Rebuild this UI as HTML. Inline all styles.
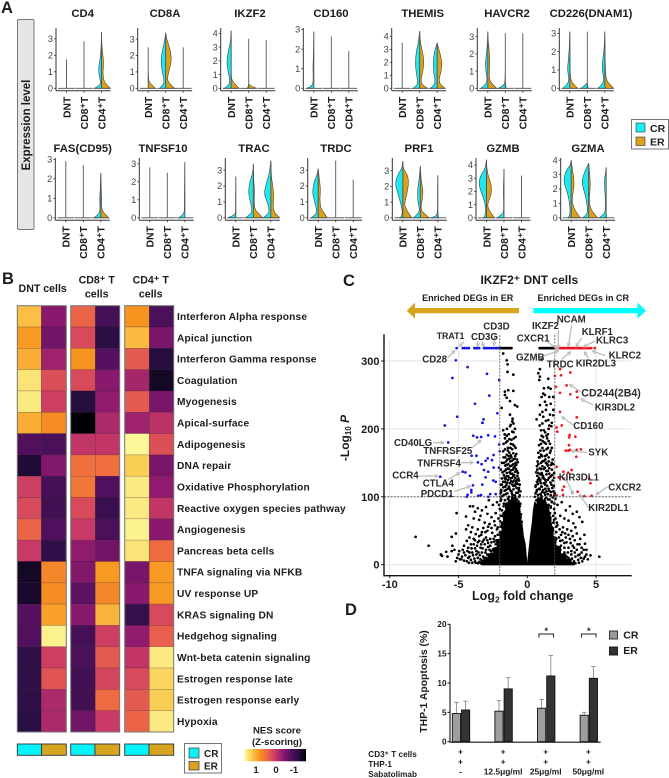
<!DOCTYPE html>
<html lang="en">
<head>
<meta charset="utf-8">
<title>IKZF2 DNT cells figure</title>
<style>
html,body{margin:0;padding:0;background:#fff;width:669px;height:778px;overflow:hidden}
svg{display:block;font-family:"Liberation Sans",Arial,sans-serif}
text{fill:#1c1c1c}
.b{font-weight:bold}
.note{font-weight:bold;font-size:9.7px;fill:#2a2a2a}
.arr{stroke:#bdbdbd;stroke-width:4;fill:none;marker-end:url(#ah)}
.hm{font-weight:bold;font-size:10.2px;letter-spacing:.15px}
</style>
</head>
<body>
<svg id="fig" width="669" height="778" viewBox="0 0 669 778" xmlns="http://www.w3.org/2000/svg">
<defs>
<marker id="ah" viewBox="0 0 10 10" refX="9" refY="5" markerWidth="3.4" markerHeight="3.4" orient="auto"><path d="M1 1L9 5L1 9" fill="none" stroke="#bdbdbd" stroke-width="2"/></marker>
<linearGradient id="nesGrad" x1="0" x2="1" y1="0" y2="0">
<stop offset="0" stop-color="#fcffa4"/><stop offset=".125" stop-color="#f9c74a"/><stop offset=".25" stop-color="#f7931f"/><stop offset=".375" stop-color="#ec6448"/><stop offset=".5" stop-color="#c93a66"/><stop offset=".625" stop-color="#8f1a6e"/><stop offset=".75" stop-color="#551060"/><stop offset=".875" stop-color="#2a0f45"/><stop offset="1" stop-color="#000004"/>
</linearGradient>
</defs>

<!-- Panel letters -->
<text class="b" x="1" y="13" font-size="16.5">A</text>
<text class="b" x="2" y="284" font-size="16.5">B</text>
<text class="b" x="343" y="286" font-size="16.5">C</text>
<text class="b" x="345" y="615" font-size="16.5">D</text>

<!-- Panel A strip -->
<rect x="17.5" y="19.5" width="16.5" height="210" rx="1.5" fill="#e6e6e6" stroke="#777" stroke-width="1"/>
<text class="b" font-size="11.5" text-anchor="middle" transform="translate(30,125) rotate(-90)">Expression level</text>
<g id="violins"></g>

<!-- Panel A legend -->
<g>
<rect x="631.5" y="119.5" width="37" height="29.5" fill="#fff" stroke="#777" stroke-width="1"/>
<rect x="636" y="123" width="9" height="9" fill="#0ff0f8" stroke="#333" stroke-width=".6"/>
<rect x="636" y="137" width="9" height="8.5" fill="#d9a31c" stroke="#333" stroke-width=".6"/>
<text class="b" x="650" y="132" font-size="10.5">CR</text>
<text class="b" x="650" y="145.5" font-size="10.5">ER</text>
</g>

<!-- Panel B headers -->
<g class="b" font-size="10.6" text-anchor="middle">
<text x="42.7" y="292">DNT cells</text>
<text x="96.7" y="283.5">CD8⁺ T</text>
<text x="96.7" y="297.5">cells</text>
<text x="150.7" y="283.5">CD4⁺ T</text>
<text x="150.7" y="297.5">cells</text>
</g>
<g id="heatmap"></g>

<!-- Panel B legends -->
<g>
<rect x="184.5" y="743.5" width="37" height="29.5" fill="#fff" stroke="#777" stroke-width="1"/>
<rect x="189" y="748" width="10" height="10" fill="#0ff0f8" stroke="#333" stroke-width=".7"/>
<rect x="189" y="761.5" width="10" height="8.5" fill="#d9a31c" stroke="#333" stroke-width=".7"/>
<text class="b" x="204" y="757" font-size="10">CR</text>
<text class="b" x="204" y="769.5" font-size="10">ER</text>
</g>
<g>
<text class="b" x="277" y="733.5" font-size="9.6" text-anchor="middle">NES score</text>
<text class="b" x="277" y="745" font-size="9.6" text-anchor="middle">(Z-scoring)</text>
<rect x="244.3" y="749" width="61.7" height="12.3" fill="url(#nesGrad)"/>
<text class="b" x="256" y="773" font-size="9.6" text-anchor="middle">1</text>
<text class="b" x="276" y="773" font-size="9.6" text-anchor="middle">0</text>
<text class="b" x="294" y="773" font-size="9.6" text-anchor="middle">-1</text>
</g>

<!-- Panel C headings -->
<text class="b" x="529.3" y="284" font-size="12" text-anchor="middle">IKZF2⁺ DNT cells</text>
<text class="b" x="467.7" y="301" font-size="9" text-anchor="middle" fill="#333">Enriched DEGs in ER</text>
<text class="b" x="583.3" y="301" font-size="9" text-anchor="middle" fill="#333">Enriched DEGs in CR</text>
<polygon points="519,308 415,308 415,302.5 406.7,310.7 415,318.8 415,313.3 519,313.3" fill="#d8a420"/>
<polygon points="533.3,308 637.5,308 637.5,302.5 646,310.7 637.5,318.8 637.5,313.3 533.3,313.3" fill="#00fdfd"/>
<g id="volcano"></g>

<!-- Volcano annotations, zoomed reference coordinates -->
<g transform="translate(340,265) scale(.33333)">
<line class="arr" x1="372" y1="230" x2="358" y2="245"/>
<line class="arr" x1="412" y1="228" x2="415" y2="245"/>
<line class="arr" x1="425" y1="228" x2="432" y2="245"/>
<line class="arr" x1="465" y1="205" x2="462" y2="242"/>
<line class="arr" x1="322" y1="280" x2="345" y2="256"/>
<line class="arr" x1="620" y1="228" x2="655" y2="255"/>
<line class="arr" x1="655" y1="195" x2="655" y2="250"/>
<line class="arr" x1="695" y1="180" x2="685" y2="245"/>
<line class="arr" x1="725" y1="218" x2="708" y2="246"/>
<line class="arr" x1="765" y1="228" x2="730" y2="246"/>
<line class="arr" x1="605" y1="275" x2="655" y2="258"/>
<line class="arr" x1="665" y1="283" x2="693" y2="260"/>
<line class="arr" x1="745" y1="280" x2="733" y2="260"/>
<line class="arr" x1="795" y1="272" x2="757" y2="258"/>
<line class="arr" x1="722" y1="380" x2="688" y2="358"/>
<line class="arr" x1="760" y1="420" x2="722" y2="402"/>
<line class="arr" x1="700" y1="480" x2="665" y2="455"/>
</g>
<g transform="translate(340,420) scale(.33333)">
<line class="arr" x1="280" y1="68" x2="312" y2="68"/>
<line class="arr" x1="395" y1="85" x2="423" y2="60"/>
<line class="arr" x1="362" y1="128" x2="400" y2="128"/>
<line class="arr" x1="237" y1="168" x2="295" y2="168"/>
<line class="arr" x1="325" y1="178" x2="360" y2="158"/>
<line class="arr" x1="342" y1="215" x2="392" y2="198"/>
<line class="arr" x1="740" y1="97" x2="693" y2="93"/>
<line class="arr" x1="675" y1="172" x2="700" y2="222"/>
<line class="arr" x1="745" y1="262" x2="718" y2="222"/>
<line class="arr" x1="803" y1="200" x2="768" y2="224"/>
</g>
<g>
<text class="note" x="436.7" y="339" style="font-size:8.8px">TRAT1</text>
<text class="note" x="471" y="340">CD3G</text>
<text class="note" x="483.3" y="329.7">CD3D</text>
<text class="note" x="422.3" y="362.3">CD28</text>
<text class="note" x="516.7" y="341.7">CXCR1</text>
<text class="note" x="532" y="329">IKZF2</text>
<text class="note" x="556.7" y="322.3">NCAM</text>
<text class="note" x="581.7" y="335">KLRF1</text>
<text class="note" x="596" y="343.3">KLRC3</text>
<text class="note" x="516" y="360.3">GZMB</text>
<text class="note" x="608.7" y="358.3">KLRC2</text>
<text class="note" x="546.7" y="367.3">TRDC</text>
<text class="note" x="575.7" y="366.3">KIR2DL3</text>
<text class="note" x="581.3" y="396.3" style="font-size:10.6px">CD244(2B4)</text>
<text class="note" x="594.7" y="410.3">KIR3DL2</text>
<text class="note" x="573.3" y="429">CD160</text>
<text class="note" x="394" y="446">CD40LG</text>
<text class="note" x="423.3" y="454">TNFRSF25</text>
<text class="note" x="588.3" y="455.3">SYK</text>
<text class="note" x="417.3" y="466.7">TNFRSF4</text>
<text class="note" x="392.3" y="478.7">CCR4</text>
<text class="note" x="558.7" y="480.7">KIR3DL1</text>
<text class="note" x="422.7" y="486.7">CTLA4</text>
<text class="note" x="608.3" y="490.7">CXCR2</text>
<text class="note" x="420.7" y="497">PDCD1</text>
<text class="note" x="588.3" y="511">KIR2DL1</text>
</g>
<text class="b" font-size="12" text-anchor="middle" transform="translate(349,438) rotate(-90)">-Log<tspan font-size="8" dy="2">10</tspan><tspan dy="-2"> </tspan><tspan font-style="italic">P</tspan></text>
<text class="b" x="522.7" y="600" font-size="12.5" text-anchor="middle">Log<tspan font-size="8.5" dy="2.5">2</tspan><tspan dy="-2.5"> fold change</tspan></text>

<!-- Panel D -->
<g id="bars"></g>
<text class="b" font-size="10.4" text-anchor="middle" transform="translate(427,681.5) rotate(-90)">THP-1 Apoptosis (%)</text>
<g>
<rect x="609.5" y="631" width="8" height="8" fill="#9b9b9b" stroke="#222" stroke-width=".9"/>
<rect x="609.5" y="647" width="8" height="8" fill="#333" stroke="#111" stroke-width=".9"/>
<text class="b" x="623.3" y="638.5" font-size="10.5">CR</text>
<text class="b" x="623.3" y="654" font-size="10.5">ER</text>
</g>
<g class="b" font-size="8.2">
<text x="368.3" y="757">CD3⁺ T cells</text>
<text x="368.3" y="767">THP-1</text>
<text x="368.3" y="777">Sabatolimab</text>
</g>

<script>
const SVGNS = 'http://www.w3.org/2000/svg';
function mk(tag, attrs, parent) {
  const e = document.createElementNS(SVGNS, tag);
  for (const k in attrs) e.setAttribute(k, attrs[k]);
  if (parent) parent.appendChild(e);
  return e;
}

/* ---------- Panel A: violin data ---------- */
const geneNames = ['CD4','CD8A','IKZF2','CD160','THEMIS','HAVCR2','CD226(DNAM1)','FAS(CD95)','TNFSF10','TRAC','TRDC','PRF1','GZMB','GZMA'];
const violinGroups = ['DNT','CD8⁺T','CD4⁺T'];
const geneTicks = [[0,1,2,3],[0,1,2,3],[0,1,2,3,4],[0,1,2,3],[0,1,2,3,4],[0,1,2,3],[0,1,2,3],[0,1,2,3],[0,1,2,3],[0,1,2,3],[0,1,2,3],[0,1,2,3],[0,1,2,3,4],[0,1,2,3,4]];
const violinTops = [[1.75,2.85,3.4],[2.5,3.4,2.5],[4.2,3.6,3.5],[2.9,2.65,1.9],[3.5,4.4,3.5],[3.3,3.2,3.2],[3.1,3.1,3.1],[2.9,2.7,2.3],[2.8,2.5,3.1],[2.6,3.4,3.6],[3.1,3.6,2.4],[3.6,3.3,2.7],[4.4,3.7,3.2],[4,3.8,3.5]];
const crCD4 = [[],[],[[0,7],[.15,2],[.4,.8],[.8,2.5],[1.2,3],[1.7,1.6],[2.2,.6],[3.4,0]]];
const erCD4 = [[],[],[[0,9],[.2,5],[.5,2],[1,1.3],[1.5,2.2],[2,1.5],[2.5,.5],[3.4,0]]];
const crCD8A = [[],[[0,6],[.2,2.5],[.5,1.5],[1,3.5],[1.7,5],[2.4,3],[3,.8],[3.4,0]],[]];
const erCD8A = [[[0,7],[.2,4],[.4,.5],[1,.1]],[[0,9],[.2,5],[.5,1.5],[1,3],[1.7,6],[2.4,4.5],[3,1],[3.4,0]],[]];
const crIKZF2 = [[[0,7],[.2,2.5],[.6,1],[1.3,3.5],[2,4.5],[2.7,3],[3.3,.8],[4.2,0]],[[0,1.5],[.2,.2]],[]];
const erIKZF2 = [[[0,8],[.2,5],[.6,.5],[1,.1]],[[0,8],[.15,3],[.3,.3]],[]];
const crCD160 = [[[0,7],[.1,1.5],[.4,.5],[1,1],[1.7,.3],[2.9,0]],[],[]];
const erCD160 = [[],[],[]];
const crTHEMIS = [[],[[0,7],[.2,2.5],[.6,2],[1.2,3.5],[2,4.5],[3,3],[3.5,1.3],[4.4,0]],[[0,7],[.2,3],[.6,2],[1.2,3.5],[2,4],[2.8,3],[3.5,0]]];
const erTHEMIS = [[],[[0,8],[.2,3],[.6,1],[1.2,3],[2,4.5],[2.8,3],[3.5,.7],[4.4,0]],[[0,8],[.2,4],[.6,1.5],[1.3,4],[2,5],[2.8,2.5],[3.5,0]]];
const crHAVCR2 = [[[0,7],[.2,2.5],[.5,.5],[1,2],[1.5,2.5],[2.2,1],[2.7,.3],[3.3,0]],[[0,7],[.15,2.5],[.3,.3],[1,.1]],[]];
const erHAVCR2 = [[[0,9],[.2,5],[.5,1.5],[1,1.5],[1.5,2],[2.2,1.5],[2.7,.4],[3.3,0]],[[0,.8],[.3,.2]],[]];
const crCD226 = [[[0,7],[.2,2.5],[.5,.7],[1,2.5],[1.5,1.5],[2.2,.5],[3.1,0]],[[0,6.5],[.15,2.5],[.3,.3]],[[0,7],[.2,2.5],[.5,.8],[1,2.8],[1.5,2.2],[2.2,.6],[3.1,0]]];
const erCD226 = [[[0,8],[.2,4],[.5,.5],[1.5,.3],[3.1,0]],[[0,1],[.2,.2]],[[0,9],[.2,5],[.5,1],[1.5,.4],[2.2,.3],[3.1,0]]];
const crFAS = [[],[],[[0,7],[.15,2.5],[.4,.6],[.9,1.2],[1.5,.5],[2.3,0]]];
const erFAS = [[],[],[[0,8],[.2,3.5],[.5,.6],[.9,1],[1.5,.5],[2.3,0]]];
const crTNFSF10 = [[],[],[[0,6],[.15,2.5],[.3,.4],[1,.5],[2,.2],[3.1,0]]];
const erTNFSF10 = [[],[],[]];
const crTRAC = [[[0,8],[.15,2],[.3,.2],[1,.3],[2.6,0]],[[0,8],[.2,3],[.5,1],[1,3],[1.6,5],[2.3,3.5],[2.8,.5],[3.4,0]],[[0,8],[.2,3],[.5,1.5],[1,3.5],[1.5,7],[2.3,4],[2.8,1.5],[3.6,0]]];
const erTRAC = [[],[[0,9],[.25,6],[.5,1.5],[1,.8],[1.6,1.3],[2.3,.5],[3.4,0]],[[0,9],[.2,5],[.6,2],[1.2,3],[1.8,2.5],[2.6,.5],[3.6,0]]];
const crTRDC = [[[0,7],[.2,2],[.5,1.5],[1,3.5],[1.6,6],[2.4,3.5],[2.7,1],[3.1,0]],[],[]];
const erTRDC = [[[0,9],[.3,6],[.6,2.5],[1.2,1.5],[1.8,2.5],[2.5,1],[3.1,0]],[],[]];
const crPRF1 = [[[0,3],[.1,.8],[.5,.5],[1,2.5],[1.6,5],[2.2,8],[2.9,4],[3.1,1],[3.6,0]],[[0,7],[.2,3],[.5,.5],[1,2.5],[1.7,3],[2.3,1.5],[3.3,0]],[[0,7],[.1,2],[.3,.3],[1,.3],[2.7,0]]];
const erPRF1 = [[[0,9],[.2,7],[.5,3.5],[.9,1.5],[1.5,4],[2.2,6],[2.8,4.5],[3.1,.5],[3.6,0]],[[0,9],[.2,5],[.5,.5],[1,1.5],[1.7,3],[2.3,1],[3.3,0]],[[0,.8],[.3,.2]]];
const crGZMB = [[[0,3],[.2,1],[.8,.8],[1.5,3],[2.5,8],[3.2,6],[3.7,1.5],[4.4,0]],[[0,7],[.2,3],[.4,.4],[1,.4],[2,.7],[3.7,0]],[]];
const erGZMB = [[[0,8],[.2,6],[.6,2.5],[1,.7],[1.8,5],[2.5,5],[3.2,1.5],[3.8,.3],[4.4,0]],[],[]];
const crGZMA = [[[0,3],[.2,1],[1,1.5],[1.8,4],[2.6,8],[3.3,5],[3.6,1],[4,0]],[[0,6],[.2,2],[.6,1],[1.5,3],[2.5,7.5],[3.2,4],[3.8,0]],[[0,7],[.2,3],[.5,.7],[1.5,1],[2.5,2],[3,1],[3.5,0]]];
const erGZMA = [[[0,9],[.3,6],[.7,2.5],[1.2,.6],[2,2.5],[2.6,3],[3.2,1.5],[4,0]],[[0,9],[.3,5],[.7,1.5],[1.3,.5],[2,1.5],[2.6,1.5],[3.8,0]],[[0,.5],[.3,.1]]];
const crProfiles = [crCD4,crCD8A,crIKZF2,crCD160,crTHEMIS,crHAVCR2,crCD226,crFAS,crTNFSF10,crTRAC,crTRDC,crPRF1,crGZMB,crGZMA];
const erProfiles = [erCD4,erCD8A,erIKZF2,erCD160,erTHEMIS,erHAVCR2,erCD226,erFAS,erTNFSF10,erTRAC,erTRDC,erPRF1,erGZMB,erGZMA];

/* panel frame layout */
const panelAxisX = [56,137.7,220.7,303.3,391.7,477.3,559.3,55.3,139.3,225.3,307.7,392.3,476,560.7];
const panelUnit = [16.5,16.4,13.75,19.6,13,17.2,18.3,19.5,18,15.9,15.9,15.7,13.2,14.4];
const panelTitleX = [82.7,165,250,331,422.7,507,591,82.7,163,254,336,419,503,588];

function violinPath(cx, side, profile, yOf) {
  const pts = profile.map(p => [cx + side * p[1], yOf(p[0])]);
  let d = 'M' + cx + ' ' + yOf(0) + 'L' + pts[0][0].toFixed(1) + ' ' + pts[0][1].toFixed(1);
  for (let i = 1; i < pts.length - 1; i++) {
    const mx = (pts[i][0] + pts[i + 1][0]) / 2, my = (pts[i][1] + pts[i + 1][1]) / 2;
    d += 'Q' + pts[i][0].toFixed(1) + ' ' + pts[i][1].toFixed(1) + ' ' + mx.toFixed(1) + ' ' + my.toFixed(1);
  }
  const last = pts[pts.length - 1];
  d += 'L' + last[0].toFixed(1) + ' ' + last[1].toFixed(1) + 'L' + cx + ' ' + last[1].toFixed(1) + 'Z';
  return d;
}

const vRoot = document.getElementById('violins');
geneNames.forEach((gene, g) => {
  const row = g < 7 ? 0 : 1;
  const y0 = row === 0 ? 88.3 : 217.8;
  const axisBottom = y0 + 2.4;
  const axisTop = row === 0 ? 28 : 158;
  const ax = panelAxisX[g];
  const unit = panelUnit[g];
  const yOf = v => y0 - v * unit;
  const group = mk('g', {}, vRoot);
  
  
  const title = mk('text', {x: panelTitleX[g], y: row === 0 ? 17 : 152, 'font-size': 11.3, 'font-weight': 'bold', 'text-anchor': 'middle'}, group);
  
  
  title.textContent = gene;
  const yAxis = mk('line', {x1: ax, x2: ax, y1: axisTop, y2: axisBottom, stroke: '#333', 'stroke-width': 1}, group);
  
  
  const xAxis = mk('line', {x1: ax, x2: ax + 54.5, y1: axisBottom, y2: axisBottom, stroke: '#333', 'stroke-width': 1}, group);
  
  
  geneTicks[g].forEach(t => {
    mk('line', {x1: ax - 2, x2: ax, y1: yOf(t), y2: yOf(t), stroke: '#333', 'stroke-width': .8}, group);
    const lab = mk('text', {x: ax - 3, y: yOf(t) + 3.2, 'font-size': 9.2, 'text-anchor': 'end', style: 'fill:#444'}, group);
    
    
    lab.textContent = t;
  });
  violinGroups.forEach((name, i) => {
    const cx = ax + 10.5 + i * 17.5;
    if (crProfiles[g][i].length) {
      const p = mk('path', {d: violinPath(cx, -1, crProfiles[g][i], yOf), fill: '#1be8f0', stroke: '#3a3a3a', 'stroke-width': .55}, group);
      
      
    }
    if (erProfiles[g][i].length) {
      const p = mk('path', {d: violinPath(cx, 1, erProfiles[g][i], yOf), fill: '#dca016', stroke: '#3a3a3a', 'stroke-width': .55}, group);
      
      
    }
    mk('line', {x1: cx - 8.4, x2: cx + 8.4, y1: y0, y2: y0, stroke: '#4a4a4a', 'stroke-width': .8}, group);
    mk('line', {x1: cx, x2: cx, y1: y0, y2: yOf(violinTops[g][i]), stroke: '#555', 'stroke-width': .9}, group);
    mk('line', {x1: cx, x2: cx, y1: axisBottom, y2: axisBottom + 2, stroke: '#333', 'stroke-width': .8}, group);
    const lab = mk('text', {transform: 'translate(' + (cx + 3.8) + ',' + (axisBottom + 6) + ') rotate(-90)', 'font-size': 10.4, 'font-weight': 'bold', 'text-anchor': 'end'}, group);
    
    
    lab.textContent = name;
  });
});

/* ---------- Panel B: heatmap data ---------- */
const pathways = ['Interferon Alpha response','Apical junction','Interferon Gamma response','Coagulation','Myogenesis','Apical-surface','Adipogenesis','DNA repair','Oxidative Phosphorylation','Reactive oxygen species pathway','Angiogenesis','Pancreas beta cells','TNFA signaling via NFKB','UV response UP','KRAS signaling DN','Hedgehog signaling','Wnt-beta catenin signaling','Estrogen response late','Estrogen response early','Hypoxia'];
const nesDntCR = [1.15,.85,1,1.4,1.45,1,-.85,-1.3,.05,.15,.4,0,-1.4,-1.35,-.8,-.85,-1.15,-1.15,-1.15,-1.2];
const nesDntER = [-.45,-.6,-.3,.2,.05,.75,-.9,-.5,-.95,-1,-.85,-1.15,.7,.75,.9,1.5,.05,.25,-.2,-.2];
const nesCd8CR = [.4,.15,.8,.15,-1.25,-1.6,-.05,.5,.55,.15,0,-.4,-.5,-.75,-.45,-.95,-.9,-1,-1,-.6];
const nesCd8ER = [-.95,-1.2,-.8,-.45,-.4,-.2,-.05,.5,-.85,-1.05,-.9,-.6,.85,.7,1.05,.05,.3,.1,.45,0];
const nesCd4CR = [.8,1.1,.3,-.25,.3,-.3,1.55,1.25,1.45,1.45,1.5,1.4,-.55,-.45,-1.1,-.4,-.05,.15,.3,.4];
const nesCd4ER = [-.9,-.55,-1.25,-1.4,-.55,-.1,.2,-.55,-.4,-.05,-.45,.45,.85,.85,.15,.35,1.45,1.3,1.25,1.45];
const nesColumns = [nesDntCR,nesDntER,nesCd8CR,nesCd8ER,nesCd4CR,nesCd4ER];
const nesStops = ['#fcffa4','#f9c74a','#f7931f','#ec6448','#c93a66','#8f1a6e','#551060','#2a0f45','#000004'];

function nesColor(z) {
  const t = Math.min(.9999, Math.max(0, (1.6 - z) / 3.2)) * (nesStops.length - 1);
  const i = Math.floor(t), f = t - i;
  const h = s => [1, 3, 5].map(k => parseInt(s.substr(k, 2), 16));
  const a = h(nesStops[i]), b = h(nesStops[i + 1]);
  return 'rgb(' + a.map((v, k) => Math.round(v + (b[k] - v) * f)).join(',') + ')';
}
const hmRoot = document.getElementById('heatmap');
const hmEdges = [17.3,41.3,66.3,70.7,95.3,119.7,124.7,149.3,173.7];
const hmColLeft = [0,1,3,4,6,7];
const hmTop = 305.7, hmRow = (732 - 305.7) / 20;
nesColumns.forEach((col, c) => {
  const x0 = hmEdges[hmColLeft[c]], x1 = hmEdges[hmColLeft[c] + 1];
  col.forEach((z, r) => {
    const cell = mk('rect', {x: x0, y: hmTop + r * hmRow, width: x1 - x0, height: hmRow, fill: nesColor(z), stroke: 'rgba(30,10,30,.35)', 'stroke-width': .5}, hmRoot);
    
    
  });
});
[[17.3,66.3],[70.7,119.7],[124.7,173.7]].forEach(e => {
  const frame = mk('rect', {x: e[0], y: hmTop, width: e[1] - e[0], height: 732 - hmTop, fill: 'none', stroke: '#777', 'stroke-width': 1}, hmRoot);
  
  
  const mid = e[0] + (e[1] - e[0]) * .495;
  const barCR = mk('rect', {x: e[0], y: 744, width: mid - e[0], height: 11.3, fill: '#05f3fb', stroke: '#333', 'stroke-width': .9}, hmRoot);
  
  
  const barER = mk('rect', {x: mid, y: 744, width: e[1] - mid, height: 11.3, fill: '#d6a41e', stroke: '#333', 'stroke-width': .9}, hmRoot);
  
  
});
pathways.forEach((name, r) => {
  const t = mk('text', {x: 177, y: hmTop + (r + .5) * hmRow + 3.6, class: 'hm'}, hmRoot);
  
  
  t.textContent = name;
});

/* ---------- Panel C: volcano data (log2FC, -log10P) ---------- */
const volcanoXTicks = [-10,-5,0,5];
const volcanoYTicks = [0,100,200,300];
const blueTop = [-5.14,-4.7,-4.55,-4.4,-4.25,-3.85,-3.75,-3.65,-3.5,-3.15,-3.05,-2.9,-2.75,-2.6,-2.45,-2.3,-2.2,-2.05];
const redTop = [2.05,2.2,2.3,2.4,2.5,2.6,2.7,2.8,2.9,3,3.1,3.2,3.3,3.4,3.5,3.6,3.7,3.8,3.9,4,4.1,4.2,4.3,4.4,4.5,4.65,4.9];
const blackTopLeft = [-1.95,-1.85,-1.75,-1.65,-1.55,-1.45,-1.35,-1.25,-1.15];
const blackTopRight = [.9,1,1.1,1.2,1.3,1.4,1.5,1.6,1.7,1.8,1.9,1.98];
const bluePoints = [[-5.19,301],[-4.34,291],[-2.93,281],[-5.45,275],[-2.04,272],[-2.76,249],[-3.8,237],[-2.18,223],[-5.1,218],[-3.18,214],[-3.27,209],[-6,205],[-3.25,209],[-5.75,180],[-3.93,190],[-3.66,187.5],[-3.35,188],[-2.84,190.5],[-2.35,189],[-2.04,177],[-2.01,167],[-4.05,160.5],[-3.7,160.5],[-2.45,161.5],[-2.88,156.6],[-3.03,153],[-2.57,154],[-3.59,150.7],[-3.32,148],[-6.33,129.6],[-4.7,137],[-4.5,136],[-4.17,131],[-3.15,139.4],[-2.84,137],[-2.45,143],[-2.06,143],[-3.03,128.6],[-3.27,118],[-2.47,124],[-2.3,122],[-3.95,117],[-4.07,110],[-4.07,106.5],[-4.34,103],[-3.56,101.6],[-3.37,102.6],[-2.84,100],[-2.7,104],[-2.3,104],[-4.4,100],[-5.58,101]];
const redPoints = [[2.38,288],[2.01,278],[2.45,279],[3.13,283],[2.86,264],[2.08,262],[2.38,253],[3.13,251],[3.59,255],[3.64,246.5],[2.38,225],[3.59,217],[2.13,202],[2.5,205],[2.18,196],[3.08,191],[3.05,187.5],[3.49,188.5],[3.03,176],[2.79,168],[2.98,168],[3.1,169],[3.59,169],[3.9,170],[3.56,159],[2.13,144],[2.62,137],[2.98,135.5],[3.22,139.4],[2.28,128.6],[2.62,127],[4.5,127],[4.6,120],[2.67,115],[2.55,110],[3.27,106],[3.66,107.5],[2.13,102],[2.6,102.6],[3.83,101.6],[4.15,101],[4.68,101.6]];
const blackLeft = [[-1.75,311],[-1.5,301],[-1.43,295],[-1.43,284],[-1.02,280],[-1.63,255],[-1.38,257],[-1.02,256],[-1.63,250],[-1.5,246],[-1.26,241],[-.9,235],[-.73,233],[-1.87,231],[-1.26,221],[-1.07,215],[-1.09,211],[-1.2,206],[-1.75,198],
[-1.65,192],[-1.5,190],[-1.3,185],[-1,195],[-.85,188],[-1.55,180],[-1.2,178],[-.95,175],[-1.4,172],[-1.1,170],[-1.75,167],[-1.3,165],[-.8,163],[-1.6,158],[-1.45,155],[-1,155],[-1.25,152],[-.7,151],[-1.7,150],[-1.5,147],[-1.15,146],[-.9,145],[-1.35,141],[-1.05,140],[-.75,138],[-1.8,136],[-1.2,134],[-.95,132],[-1.5,130],[-1.1,128],[-.65,127],[-1.4,125],[-1.75,122],[-1.25,120],[-.85,119],[-1,116],[-1.6,115],[-1.3,112],[-.6,113],[-1.9,110],[-1.15,108],[-.8,106],[-1.45,105],[-1.7,103],[-1.05,102],[-.55,102],[-1.95,100],
[-1.35,160],[-1.15,158],[-1.55,140],[-.85,150],[-1.65,128],[-.55,118],[-1.85,118],[-1.05,122],[-1.3,128],[-.75,125],[-1.55,110],[-1.95,105],
[-1.9,96],[-2.2,92],[-2.5,88],[-2.8,95],[-3,85],[-3.3,80],[-3.6,83],[-3.95,86],[-4.17,86],[-3.8,78],[-3.4,72],[-2.9,75],[-2.6,70],[-2.3,76],[-2,82],[-1.7,90],[-4.46,71],[-3.9,68],[-3.5,66],[-3.1,62],[-2.75,60],[-2.4,64],[-2.1,68],[-1.8,72],[-4.3,58],[-4,55],[-3.6,52],[-3.2,54],[-2.9,50],[-2.55,47],[-2.2,52],[-1.95,56],[-4.45,52],[-4.1,48],[-3.75,45],[-3.35,44],[-3,40],[-2.7,38],[-2.35,42],[-2.05,35],
[-5.14,76],[-5.19,46],[-5.5,41],[-5.45,28],[-5.3,22],[-5.5,20],[-5.9,19],[-5.8,12],[-6.28,15],[-6.2,13],[-7.18,28],[-8.12,41],[-5,15],[-5.1,10],[-4.9,8],[-4.7,22],[-4.6,28],[-4.4,35],[-4.3,25],[-4.2,18],[-4.5,14],[-4.3,10],[-4.1,7],[-3.9,30],[-3.8,24],[-3.7,15],[-3.6,10],[-3.5,35],[-3.4,25],[-3.3,18],[-3.2,12],[-3.1,30],[-3,22],[-2.9,15],[-3.8,5],[-3.5,4],[-3.3,6],[-2.7,28],[-2.5,22],[-2.3,30],[-2.1,25],[-1.9,45],[-3.95,14],[-3.65,28],[-3.25,34],[-2.85,32],[-2.6,16],[-2.4,34],[-4.05,24],[-3.45,14],[-2.95,8],[-2.75,22]];
const blackLeftDense = [[-1.98,64],[-1.76,61],[-1.52,66],[-1.31,63],[-1.08,68],[-.88,62],[-.66,65],[-.49,70],[-.41,63],
[-1.92,72],[-1.66,70],[-1.42,74],[-1.2,71],[-1,76],[-.78,73],[-.58,78],[-.46,74],
[-1.84,80],[-1.6,78],[-1.37,83],[-1.15,79],[-.93,84],[-.72,81],[-.54,86],
[-2.05,88],[-1.72,86],[-1.5,90],[-1.27,87],[-1.06,92],[-.84,88],[-.64,93],[-.5,90],
[-1.95,94],[-1.62,95],[-1.4,97],[-1.18,94],[-.97,99],[-.75,96],[-.58,100],
[-1.8,101],[-1.55,104],[-1.33,100],[-1.12,105],[-.9,102],[-.68,106],[-.5,108],
[-1.9,107],[-1.65,109],[-1.42,112],[-1.22,109],[-1,111],[-.78,113],[-.62,110],
[-1.75,114],[-1.52,118],[-1.33,115],[-1.08,118],[-.88,116],[-.7,119],
[-1.95,118],[-1.62,122],[-1.45,121],[-1.18,123],[-.95,124],[-.8,122],[-.6,124],
[-1.85,127],[-1.58,126],[-1.38,130],[-1.22,127],[-1.02,131],[-.87,128],[-.72,131],
[-1.7,132],[-1.48,135],[-1.28,136],[-1.08,134],[-.88,137],[-.68,135],
[-1.92,140],[-1.65,138],[-1.42,142],[-1.18,139],[-.98,143],[-.82,141],
[-1.6,146],[-1.38,148],[-1.25,145],[-1.02,148],[-.8,147],
[-1.85,150],[-1.55,152],[-1.3,156],[-1.12,153],[-.92,156],[-.74,155],
[-1.72,158],[-1.5,162],[-1.2,161],[-1.02,164],[-.88,160],
[-1.62,170],[-1.42,168],[-1.22,172],[-1.05,177],[-.85,172],
[-1.72,178],[-1.45,182],[-1.15,184],[-.98,186],[-1.62,186],[-1.35,192],[-1.1,196],[-.9,200],[-1.48,200],[-1.25,204],[-1,208],
[-2.15,55],[-2.35,58],[-2.6,54],[-2.85,56],[-3.05,48],[-3.3,48],[-3.5,42],[-3.9,38],[-4.2,40],[-2.15,44],[-2.45,38],[-2.25,36],[-2.6,33],[-2.9,36],[-3.15,37],[-3.35,30],[-3.6,33],[-3.8,36],[-4.1,30],[-4.35,20],[-4.6,18],[-4.75,12],[-4.95,20],[-4.8,8],[-4.6,6],[-4.4,5],[-4.2,12],[-4,18],[-3.85,9],[-3.7,20],[-3.55,18],[-3.4,8],[-3.25,24],[-3.05,18],[-2.85,26],[-2.65,20],[-3.15,6],[-3,10],[-2.8,12],[-3.3,3],[-3.6,2],[-4,3],[-4.25,3],[-3.75,3],[-5.2,5]];
const blackRight = [[1.04,302],[.92,288],[.8,282],[.92,277],[.87,272],[1.53,274],[1.21,260],[1.53,261],[1.7,259],[1.16,252],[1.04,247],[1.28,250],[1.6,247],[1.89,247],[1.28,240],[1.4,235],[1.7,237],[1.89,228],[.92,235],[.92,221],[.68,214],[1.16,218],[1.65,221],[1.89,220],[1.53,213],[1.78,209],[1.1,225],[1.35,228],
[.9,205],[1.1,208],[1.35,212],[1.6,205],[1.75,204],[1,198],[1.3,195],[1.5,192],[1.15,188],[1.45,186],[.95,184],[1.25,180],[1.65,178],[.85,176],[1.1,172],[1.4,170],[1.7,168],[.8,165],[1,162],[1.3,160],[1.55,158],[1.2,153],[1.85,155],[.75,152],[1,150],[1.45,148],[.7,145],[.9,142],[1.2,141],[1.6,142],[1.8,140],[.65,136],[1.05,135],[1.4,133],[1.7,130],[.85,128],[1.2,127],[1.5,125],[1.95,128],[.7,122],[1,120],[1.3,118],[1.75,118],[.6,115],[.85,112],[1.15,110],[1.55,112],[1.9,108],[.6,105],[.95,104],[1.3,103],[1.7,102],[2,105],
[.95,125],[1.1,132],[.8,135],[1.35,122],[.7,110],[1.05,115],[1.4,108],[1.1,145],[1.35,150],[.9,158],[1.5,138],
[1.5,96],[1.8,92],[2.05,97],[1.4,88],[1.7,84],[2.2,88],[2.5,92],[2.8,80],[3.1,86],[3.3,75],[3.6,78],[1.3,78],[1.6,74],[2,76],[2.4,72],[2.7,68],[3,65],[3.35,61],[3.8,70],[1.25,68],[1.55,64],[1.9,62],[2.2,58],[2.6,55],[2.9,52],[3.2,50],[3.5,55],[4,63],[1.4,54],[1.75,50],[2.1,48],[2.45,44],[2.8,40],[3.1,38],[3.45,36],[3.8,30],[4.15,44],[4.2,31],[3.95,25],[3.6,22],[3.3,28],[3,25],[2.7,32],[2.4,35],[2.1,38],[1.8,40],[4.3,22],[4.6,13.7],[5.24,11.8],[4.2,12],[4.1,9],[3.8,15],[3.5,12],[3.2,15],[3,10],[2.7,18],[2.4,22],[2.9,6],[3.4,5],[3.7,7],[3.9,10]];
const blackRightDense = [[.62,62],[.82,65],[1.05,60],[1.28,66],[1.5,63],[1.72,60],[1.95,66],[2.15,62],
[.52,70],[.72,72],[.95,69],[1.18,74],[1.42,71],[1.65,76],[1.88,72],[2.05,68],
[.58,78],[.8,81],[1.02,78],[1.25,83],[1.48,80],[1.7,86],[1.95,82],
[.6,87],[.86,90],[1.1,86],[1.32,91],[1.55,88],[1.78,93],[1.98,90],
[.66,95],[.92,97],[1.16,94],[1.38,99],[1.62,96],[1.85,99],
[.55,100],[.78,103],[1.02,101],[1.25,106],[1.5,104],[1.72,107],[1.95,102],
[.68,108],[.9,111],[1.08,107],[1.32,112],[1.6,109],[1.82,113],
[.62,117],[.78,119],[1.02,115],[1.22,120],[1.45,116],[1.68,121],[1.92,116],
[.78,125],[.92,123],[1.12,128],[1.3,125],[1.58,128],[1.85,124],
[.72,131],[.95,133],[1.15,130],[1.38,138],[1.6,134],[1.82,132],
[.72,140],[1,141],[1.28,143],[1.5,146],[1.72,147],[1.95,135],
[.8,148],[1.1,152],[1.32,155],[1.55,152],[1.78,150],
[.85,158],[1.08,160],[1.42,162],[1.65,165],[1.9,148],
[.95,168],[1.2,168],[1.5,172],[1.78,172],[1,178],[1.35,178],[1.55,182],[1.12,182],[1.4,190],[1.2,198],[1.05,190],[1.55,200],
[2.1,56],[2.35,52],[2.55,48],[2.75,46],[3,44],[3.3,42],[3.6,46],[2.3,40],[2.55,36],[2.85,33],[3.15,32],[3.4,25],[3.65,30],[3.85,38],[2.45,28],[2.7,25],[2.95,18],[3.2,20],[3.45,18],[3.7,14],[3.95,18],[4.1,22],[4.3,15],[4.4,8],[4,5],[3.75,3],[3.5,2],[3.25,9],[3.05,3],[2.85,12],[2.65,8]];
const denseLeft = [[-.03,0],[-3.3,0],[-3.5,3],[-3.05,5],[-3.2,10],[-2.75,9],[-2.8,16],[-2.45,15],[-2.5,24],[-2.15,26],[-2.25,36],[-1.95,38],[-2.05,48],[-1.8,50],[-1.9,62],[-1.7,64],[-1.78,76],[-1.55,78],[-1.6,90],[-1.42,84],[-1.35,98],[-1.2,88],[-1.1,104],[-.98,90],[-.85,100],[-.75,86],[-.65,94],[-.55,82],[-.5,70],[-.4,60],[-.3,42],[-.17,30],[-.08,10]];
const denseRight = [[.03,0],[.1,15],[.24,41],[.38,62],[.46,80],[.55,92],[.68,84],[.78,100],[.92,90],[1.02,104],[1.15,90],[1.28,98],[1.4,84],[1.52,88],[1.6,72],[1.72,70],[1.7,58],[1.9,54],[1.85,42],[2.1,40],[2.05,28],[2.4,26],[2.4,16],[2.8,15],[2.8,8],[3.2,8],[3.15,3],[3.5,3],[3.4,0]];
const volcanoTopP = 319;

const vol = document.getElementById('volcano');
const xS = v => 527.3 + v * 13.75;
const yS = v => 564.7 - v * 0.679;
const plotRight = 631.7, plotBottom = 575.7, plotLeft = 384;

volcanoXTicks.forEach(t => {
  if (t !== 0) {
    const g = mk('line', {x1: xS(t), x2: xS(t), y1: 340, y2: plotBottom, stroke: '#e6e6e6', 'stroke-width': 1}, vol);
    
    
  }
  mk('line', {x1: xS(t), x2: xS(t), y1: plotBottom, y2: plotBottom + 2.5, stroke: '#222', 'stroke-width': 1}, vol);
  const lab = mk('text', {x: xS(t), y: 588, 'font-size': 11, 'font-weight': 'bold', 'text-anchor': 'middle'}, vol);
  
  
  lab.textContent = t;
});
volcanoYTicks.forEach(t => {
  const g = mk('line', {x1: plotLeft, x2: plotRight, y1: yS(t), y2: yS(t), stroke: '#e6e6e6', 'stroke-width': 1}, vol);
  
  
  mk('line', {x1: plotLeft - 3, x2: plotLeft, y1: yS(t), y2: yS(t), stroke: '#222', 'stroke-width': 1}, vol);
  const lab = mk('text', {x: plotLeft - 4.5, y: yS(t) + 4, 'font-size': 11, 'font-weight': 'bold', 'text-anchor': 'end'}, vol);
  
  
  lab.textContent = t;
});
function drawDense(poly) {
  const d = poly.map(p => xS(p[0]).toFixed(1) + ',' + yS(p[1]).toFixed(1)).join(' ');
  const m = mk('polygon', {points: d, fill: '#000', stroke: '#000', 'stroke-width': 1.4, 'stroke-linejoin': 'round'}, vol);
  
  
}
drawDense(denseLeft);
drawDense(denseRight);
function drawPoint(fc, p, color) {
  const c = mk('circle', {cx: xS(fc).toFixed(1), cy: yS(p).toFixed(1), r: 1.35, fill: color}, vol);
  
  
}
blackLeft.forEach(p => drawPoint(p[0], p[1], '#000'));
blackLeftDense.forEach(p => drawPoint(p[0], p[1], '#000'));
blackRight.forEach(p => drawPoint(p[0], p[1], '#000'));
blackRightDense.forEach(p => drawPoint(p[0], p[1], '#000'));
blackTopLeft.forEach(fc => drawPoint(fc, volcanoTopP, '#000'));
blackTopRight.forEach(fc => drawPoint(fc, volcanoTopP, '#000'));
bluePoints.forEach(p => drawPoint(p[0], p[1], '#1414e6'));
blueTop.forEach(fc => drawPoint(fc, volcanoTopP, '#1414e6'));
redPoints.forEach(p => drawPoint(p[0], p[1], '#f0141e'));
redTop.forEach(fc => drawPoint(fc, volcanoTopP, '#f0141e'));

[-2, 2].forEach(t => {
  const l = mk('line', {x1: xS(t), x2: xS(t), y1: 335, y2: plotBottom, stroke: '#555', 'stroke-width': .8, 'stroke-dasharray': '2 1.3'}, vol);
  
  
});
const sigLine = mk('line', {x1: plotLeft, x2: plotRight, y1: yS(100), y2: yS(100), stroke: '#555', 'stroke-width': .8, 'stroke-dasharray': '2 1.3'}, vol);


const volY = mk('line', {x1: plotLeft, x2: plotLeft, y1: 334.3, y2: plotBottom + .7, stroke: '#111', 'stroke-width': 1.4}, vol);


const volX = mk('line', {x1: plotLeft, x2: plotRight, y1: plotBottom, y2: plotBottom, stroke: '#111', 'stroke-width': 1.4}, vol);



/* ---------- Panel D: bar data ---------- */
const doseLabels = ['-','12.5μg/ml','25μg/ml','50μg/ml'];
const barTicks = [0,5,10,15,20];
const crMeans = [4.8,5.2,5.7,4.5];
const erMeans = [5.4,9,11.2,10.8];
const crUpper = [6.7,7,7.2,5];
const erUpper = [6.9,10.9,14.7,12.8];
const sigGroups = [2,3];

const bars = document.getElementById('bars');
const barY = v => 741.7 - v * 5.87;
const groupX = i => 461 + i * 42.6;
barTicks.forEach(t => {
  mk('line', {x1: 447.5, x2: 450, y1: barY(t), y2: barY(t), stroke: '#111', 'stroke-width': 1}, bars);
  const lab = mk('text', {x: 446.5, y: barY(t) + 2.9, 'font-size': 8.2, 'font-weight': 'bold', 'text-anchor': 'end'}, bars);
  
  
  lab.textContent = t;
});
function drawBar(cx, value, upper, fill, name) {
  const err = mk('path', {d: 'M' + cx + ' ' + barY(value) + 'V' + barY(upper) + 'M' + (cx - 2.2) + ' ' + barY(upper) + 'H' + (cx + 2.2), stroke: '#888', 'stroke-width': .9, fill: 'none'}, bars);
  
  
  const r = mk('rect', {x: cx - 4.1, y: barY(value), width: 8.2, height: barY(0) - barY(value), fill: fill, stroke: '#111', 'stroke-width': .9}, bars);
  
  
}
crMeans.forEach((v, i) => drawBar(groupX(i) - 4.6, v, crUpper[i], '#9e9e9e', 'bar-cr'));
erMeans.forEach((v, i) => drawBar(groupX(i) + 4.6, v, erUpper[i], '#333333', 'bar-er'));
sigGroups.forEach(i => {
  const cx = groupX(i);
  const b = mk('path', {d: 'M' + (cx - 7.3) + ' 637.5V634H' + (cx + 7.3) + 'V637.5', fill: 'none', stroke: '#222', 'stroke-width': 1}, bars);
  
  
  const s = mk('text', {x: cx, y: 634, 'font-size': 9, 'font-weight': 'bold', 'text-anchor': 'middle'}, bars);
  
  
  s.textContent = '*';
});
const barAxis = mk('path', {d: 'M450 624.3V742.2H600.7', fill: 'none', stroke: '#111', 'stroke-width': 1.1}, bars);


doseLabels.forEach((dose, i) => {
  const cx = groupX(i) - .5;
  ['+', '+'].forEach((sym, k) => {
    const t = mk('text', {x: cx, y: 754.5 + k * 10, 'font-size': 8.5, 'font-weight': 'bold', 'text-anchor': 'middle'}, bars);
    
    
    t.textContent = sym;
  });
  const d = mk('text', {x: cx, y: 774.5, 'font-size': 8.4, 'font-weight': 'bold', 'text-anchor': 'middle'}, bars);
  
  
  d.textContent = dose;
});
</script>
</svg>
</body>
</html>
